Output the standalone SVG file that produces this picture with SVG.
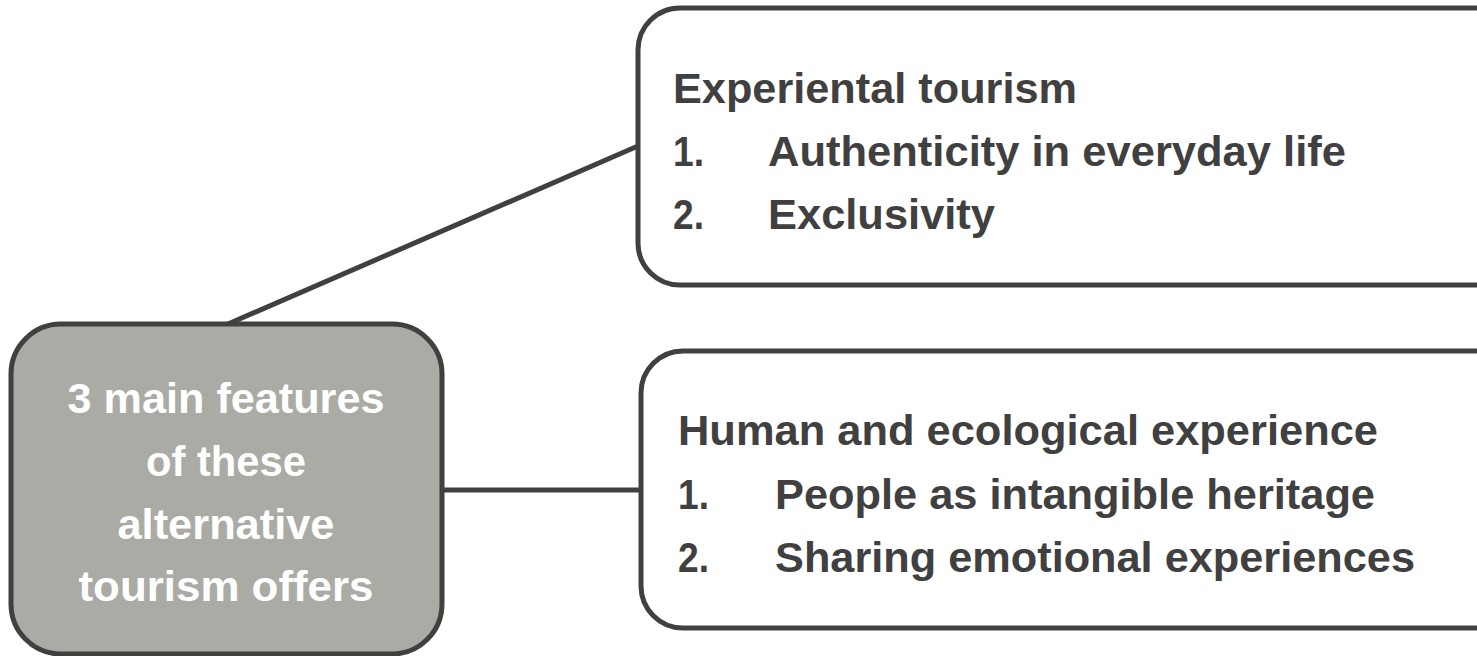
<svg xmlns="http://www.w3.org/2000/svg" width="1477" height="656" viewBox="0 0 1477 656">
<style>
.box{stroke:#404040;stroke-width:5}
.t{font-family:"Liberation Sans",Arial,sans-serif;font-weight:bold;font-size:43px}
.dark{fill:#404040}
.white{fill:#ffffff}
.conn{stroke:#404040;stroke-width:5;fill:none}
</style>
<rect width="1477" height="656" fill="#ffffff"/>
<g id="connectors">
<line class="conn" x1="228" y1="324" x2="638" y2="146"/>
<line class="conn" x1="442" y1="490" x2="641" y2="490"/>
</g>
<g id="node-center">
<rect class="box" x="11" y="324" width="431" height="330" rx="50" fill="#ABABA6"/>
<g class="t white" text-anchor="middle">
<text x="226" y="413" textLength="317" lengthAdjust="spacingAndGlyphs">3 main features</text>
<text x="226" y="476" textLength="160" lengthAdjust="spacingAndGlyphs">of these</text>
<text x="226" y="539" textLength="217" lengthAdjust="spacingAndGlyphs">alternative</text>
<text x="226" y="601" textLength="295" lengthAdjust="spacingAndGlyphs">tourism offers</text>
</g>
</g>
<g id="node-experiential">
<rect class="box" x="638" y="8" width="880" height="277" rx="42" fill="#ffffff"/>
<g class="t dark">
<text x="673" y="103" textLength="404" lengthAdjust="spacingAndGlyphs">Experiental tourism</text>
<text x="673" y="166" textLength="31" lengthAdjust="spacingAndGlyphs">1.</text>
<text x="768" y="166" textLength="578" lengthAdjust="spacingAndGlyphs">Authenticity in everyday life</text>
<text x="673" y="229" textLength="31" lengthAdjust="spacingAndGlyphs">2.</text>
<text x="768" y="229" textLength="227" lengthAdjust="spacingAndGlyphs">Exclusivity</text>
</g>
</g>
<g id="node-human">
<rect class="box" x="641" y="351" width="880" height="277" rx="42" fill="#ffffff"/>
<g class="t dark">
<text x="678" y="445" textLength="700" lengthAdjust="spacingAndGlyphs">Human and ecological experience</text>
<text x="678" y="509" textLength="31" lengthAdjust="spacingAndGlyphs">1.</text>
<text x="775" y="509" textLength="600" lengthAdjust="spacingAndGlyphs">People as intangible heritage</text>
<text x="678" y="572" textLength="31" lengthAdjust="spacingAndGlyphs">2.</text>
<text x="775" y="572" textLength="640" lengthAdjust="spacingAndGlyphs">Sharing emotional experiences</text>
</g>
</g>
</svg>
